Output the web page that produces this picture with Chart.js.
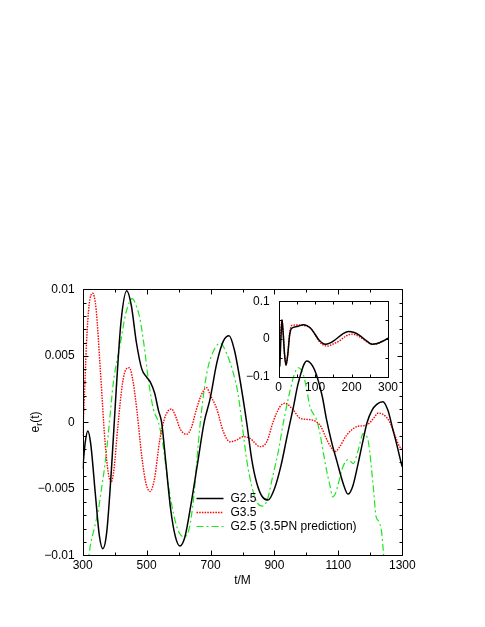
<!DOCTYPE html>
<html><head><meta charset="utf-8">
<script src="https://cdn.jsdelivr.net/npm/chart.js@4.4.1/dist/chart.umd.min.js"></script>
<style>
html,body{margin:0;padding:0;background:#fff;}
#wrap{position:relative;width:485px;height:627px;background:#fff;}
canvas{position:absolute;left:0;top:0;}
</style></head><body>
<div id="wrap"><canvas id="main" width="485" height="627"></canvas><canvas id="inset" width="485" height="627"></canvas></div>
<script>
// ---------- main panel data ----------
const xTicks = [300, 500, 700, 900, 1100, 1300];
const yTicks = [-0.01, -0.005, 0, 0.005, 0.01];
const yTickText = ['\u22120.01', '\u22120.005', '0', '0.005', '0.01'];

const g25T = [300,308,316,325,340,352,363,375,390,405,420,438,452,468,485,500,512,525,537,547,560,575,590,604,620,640,660,680,698,720,740,758,775,790,813,829,845,862,880,900,920,940,958,975,1001,1020,1035,1050,1063,1080,1095,1115,1130,1145,1160,1175,1190,1205,1220,1239,1255,1270,1282,1296,1300];
const g25E = [-0.0035,-0.0015,-0.00065,-0.0016,-0.0055,-0.0085,-0.0095,-0.0083,-0.0035,0.0025,0.0076,0.0099,0.0088,0.006,0.004,0.0034,0.003,0.0022,0.0009,0.0,-0.003,-0.0065,-0.0086,-0.0093,-0.0086,-0.006,-0.003,0.0,0.0017,0.0045,0.0061,0.0065,0.0054,0.0035,0.0,-0.0028,-0.0046,-0.0056,-0.00585,-0.005,-0.0033,-0.001,0.001,0.003,0.0046,0.0042,0.0033,0.0019,0.0002,-0.0016,-0.0029,-0.0046,-0.0054,-0.0048,-0.0033,-0.0016,0.0,0.0009,0.00135,0.00155,0.0009,-0.0005,-0.0016,-0.003,-0.00335];

const g35T = [300,305,312,320,331,342,355,370,380,389,398,410,425,436,446,458,470,485,498,511,525,540,555,567,578,590,605,625,640,655,670,688,699,719,740,761,782,802,823,855,876,896,917,933,959,980,1011,1030,1045,1060,1075,1090,1105,1125,1145,1160,1180,1195,1210,1225,1245,1261,1282,1292,1300];
const g35E = [-0.001,0.0018,0.006,0.0088,0.0097,0.0085,0.004,-0.0015,-0.0038,-0.0045,-0.0035,-0.0003,0.003,0.004,0.0041,0.003,0.0008,-0.0026,-0.0046,-0.0052,-0.0042,-0.0015,0.0002,0.00085,0.001,0.0005,-0.0005,-0.0009,-0.0004,0.0009,0.002,0.0026,0.00205,0.00105,-0.0007,-0.00146,-0.00133,-0.00108,-0.0012,-0.00183,-0.00146,0.00005,0.00117,0.00143,0.00092,0.0003,0.0002,0.00005,-0.0003,-0.0011,-0.0018,-0.0022,-0.0018,-0.001,-0.0005,-0.0003,-0.00025,-0.0001,0.0003,0.0007,0.0005,0.0,-0.0013,-0.00185,-0.002];

const pnT = [300,312,323,336,349,360,370,380,396,417,435,455,470,479,492,505,521,537,550,565,580,598,615,632,648,662,675,690,710,730,750,770,787,798,813,830,845,862,878,895,912,928,948,962,975,990,1000,1011,1032,1042,1053,1063,1074,1082,1090,1100,1115,1131,1147,1162,1178,1186,1194,1209,1218,1225,1235,1240,1245];
const pnE = [-0.013,-0.0116,-0.0094,-0.008,-0.0066,-0.0048,-0.0031,-0.0009,0.003,0.0058,0.0082,0.0093,0.0086,0.0078,0.0058,0.0033,0.001,0.0,-0.0015,-0.0042,-0.0064,-0.0081,-0.0086,-0.0081,-0.0055,-0.0015,0.0015,0.0039,0.0054,0.00595,0.0052,0.0038,0.002,0.0,-0.0028,-0.0049,-0.006,-0.0063,-0.0058,-0.004,-0.0022,0.0,0.0023,0.0036,0.0041,0.0036,0.0026,0.0012,0.00017,-0.0008,-0.0023,-0.0036,-0.0048,-0.0056,-0.0054,-0.0046,-0.0033,-0.0028,-0.0031,-0.0021,-0.00085,-0.00095,-0.0015,-0.0048,-0.0071,-0.0074,-0.0082,-0.0095,-0.011];

// ---------- inset data ----------
const inXTicks = [0, 100, 200, 300];
const inYTicks = [-0.1, 0, 0.1];
const inYTickText = ['\u22120.1', '0', '0.1'];
const inG25T = [3,6,9,12,16,20,25,30,35,50,68,87,100,110,128,140,155,175,192,205,220,240,256,270,285,300];
const inG25E = [-0.073,0.0,0.051,0.02,-0.04,-0.07,-0.04,0.01,0.028,0.033,0.038,0.029,0.012,-0.002,-0.014,-0.011,-0.002,0.013,0.02,0.018,0.011,-0.004,-0.014,-0.012,-0.006,0.002];
const inG35T = [4,9,12,16,20,25,30,36,50,68,87,100,110,133,150,165,185,201,215,228,245,265,280,300];
const inG35E = [0.0,0.05,0.02,-0.04,-0.068,-0.04,0.015,0.036,0.037,0.036,0.029,0.012,-0.005,-0.019,-0.013,-0.006,0.008,0.013,0.009,0.002,-0.009,-0.014,-0.008,0.002];

// ---------- styling ----------
const FONT = '"Liberation Sans", Arial, Helvetica, sans-serif';
Chart.defaults.font.family = FONT;
Chart.defaults.font.size = 12;
Chart.defaults.color = '#000';

const BLACK = '#000000', RED = '#ff0000', GREEN = '#1ee61e';
const RED_DASH = [1.5, 1.2], GREEN_DASH = [7, 3, 2, 3];

function pts(t, e) { return t.map((x, i) => ({ x: x, y: e[i] })); }

function framePlugin(cfg) {
  return {
    id: 'frame' + cfg.name,
    afterDatasetsDraw(chart) {
      const ctx = chart.ctx, a = chart.chartArea;
      const xs = chart.scales.x, ys = chart.scales.y;
      ctx.save();
      ctx.strokeStyle = '#000';
      ctx.lineWidth = 1;
      ctx.setLineDash([]);
      const L = Math.round(a.left) + 0.5, R = Math.round(a.right) + 0.5;
      const T = Math.round(a.top) + 0.5, B = Math.round(a.bottom) + 0.5;
      ctx.beginPath();
      ctx.rect(L, T, R - L, B - T);
      ctx.stroke();
      ctx.beginPath();
      for (let k = 0; k <= cfg.xN; k++) {
        const v = cfg.xMin + k * cfg.xStep;
        const px = Math.round(xs.getPixelForValue(v)) + 0.5;
        const len = (k % cfg.xMajorEvery === 0) ? cfg.major : cfg.minor;
        ctx.moveTo(px, B); ctx.lineTo(px, B - len);
        ctx.moveTo(px, T); ctx.lineTo(px, T + len);
      }
      for (let k = 0; k <= cfg.yN; k++) {
        const v = cfg.yMin + k * cfg.yStep;
        const py = Math.round(ys.getPixelForValue(v)) + 0.5;
        const len = (k % cfg.yMajorEvery === 0) ? cfg.major : cfg.minor;
        ctx.moveTo(L, py); ctx.lineTo(L + len, py);
        ctx.moveTo(R, py); ctx.lineTo(R - len, py);
      }
      ctx.stroke();
      ctx.restore();
    }
  };
}

const legendPlugin = {
  id: 'customLegend',
  afterDatasetsDraw(chart) {
    const ctx = chart.ctx;
    const items = chart.data.datasets;
    const x0 = 196.5, x1 = 223.5, tx = 230.5;
    const ys = [498.5, 512.5, 526.5];
    ctx.save();
    ctx.font = '12px ' + FONT;
    ctx.textBaseline = 'middle';
    ctx.textAlign = 'left';
    items.forEach((ds, i) => {
      ctx.strokeStyle = ds.borderColor;
      ctx.lineWidth = ds.borderWidth;
      ctx.setLineDash(ds.borderDash || []);
      ctx.beginPath();
      ctx.moveTo(x0, ys[i]); ctx.lineTo(x1, ys[i]);
      ctx.stroke();
      ctx.setLineDash([]);
      ctx.fillStyle = '#000';
      ctx.fillText(ds.label, tx, ys[i] + 0.5);
    });
    ctx.restore();
  }
};

const titlePlugin = {
  id: 'axisTitles',
  afterDraw(chart) {
    const ctx = chart.ctx;
    ctx.save();
    ctx.fillStyle = '#000';
    ctx.font = '12px ' + FONT;
    ctx.textAlign = 'center';
    ctx.textBaseline = 'middle';
    ctx.fillText('t/M', 242.5, 581);
    // rotated y title e_r(t)
    ctx.translate(35, 422);
    ctx.rotate(-Math.PI / 2);
    ctx.textAlign = 'left';
    ctx.textBaseline = 'alphabetic';
    const f12 = '12px ' + FONT, f9 = '9px ' + FONT;
    ctx.font = f12; const wE = ctx.measureText('e').width;
    ctx.font = f9; const wR = ctx.measureText('r').width;
    ctx.font = f12; const wP = ctx.measureText('(t)').width;
    let x = -(wE + wR + wP) / 2;
    const base = 4;
    ctx.font = f12; ctx.fillText('e', x, base); x += wE;
    ctx.font = f9; ctx.fillText('r', x, base + 3); x += wR;
    ctx.font = f12; ctx.fillText('(t)', x, base);
    ctx.restore();
  }
};

const lineBase = { pointRadius: 0, fill: false, cubicInterpolationMode: 'monotone' };

// ---------- main chart ----------
new Chart(document.getElementById('main'), {
  type: 'line',
  data: {
    datasets: [
      Object.assign({ label: 'G2.5', data: pts(g25T, g25E), borderColor: BLACK, borderWidth: 1.5 }, lineBase),
      Object.assign({ label: 'G3.5', data: pts(g35T, g35E), borderColor: RED, borderWidth: 1.4, borderDash: RED_DASH }, lineBase),
      Object.assign({ label: 'G2.5 (3.5PN prediction)', data: pts(pnT, pnE), borderColor: GREEN, borderWidth: 1.2, borderDash: GREEN_DASH }, lineBase)
    ]
  },
  options: {
    responsive: false, animation: false, devicePixelRatio: 1,
    layout: { padding: { top: 289.3, right: 82.7, left: 0, bottom: 0 } },
    plugins: { legend: { display: false }, tooltip: { enabled: false } },
    scales: {
      x: {
        type: 'linear', min: 300, max: 1300,
        afterBuildTicks: s => { s.ticks = xTicks.map(v => ({ value: v })); },
        ticks: { padding: 3, maxRotation: 0, autoSkip: false, callback: v => String(v), font: { size: 12 } },
        grid: { display: false, drawTicks: false }, border: { display: false },
        afterFit: s => { s.height = 71.7; }
      },
      y: {
        type: 'linear', min: -0.01, max: 0.01,
        afterBuildTicks: s => { s.ticks = yTicks.map(v => ({ value: v })); },
        ticks: { padding: 8, autoSkip: false, callback: (v, i) => yTickText[i], font: { size: 12 } },
        grid: { display: false, drawTicks: false }, border: { display: false },
        afterFit: s => { s.width = 82.7; }
      }
    }
  },
  plugins: [
    framePlugin({ name: 'M', xMin: 300, xStep: 100, xN: 10, xMajorEvery: 2, yMin: -0.01, yStep: 0.001, yN: 20, yMajorEvery: 5, major: 5, minor: 3 }),
    legendPlugin, titlePlugin
  ]
});

// ---------- inset chart ----------
new Chart(document.getElementById('inset'), {
  type: 'line',
  data: {
    datasets: [
      Object.assign({ label: 'G2.5', data: pts(inG25T, inG25E), borderColor: BLACK, borderWidth: 1.5 }, lineBase),
      Object.assign({ label: 'G3.5', data: pts(inG35T, inG35E), borderColor: RED, borderWidth: 1.4, borderDash: RED_DASH }, lineBase)
    ]
  },
  options: {
    responsive: false, animation: false, devicePixelRatio: 1,
    layout: { padding: { top: 301.3, right: 97, left: 0, bottom: 0 } },
    plugins: { legend: { display: false }, tooltip: { enabled: false } },
    scales: {
      x: {
        type: 'linear', min: 0, max: 300,
        afterBuildTicks: s => { s.ticks = inXTicks.map(v => ({ value: v })); },
        ticks: { padding: 4, maxRotation: 0, autoSkip: false, callback: v => String(v), font: { size: 12 } },
        grid: { display: false, drawTicks: false }, border: { display: false },
        afterFit: s => { s.height = 250.3; }
      },
      y: {
        type: 'linear', min: -0.1, max: 0.1,
        afterBuildTicks: s => { s.ticks = inYTicks.map(v => ({ value: v })); },
        ticks: { padding: 9, autoSkip: false, callback: (v, i) => inYTickText[i], font: { size: 12 } },
        grid: { display: false, drawTicks: false }, border: { display: false },
        afterFit: s => { s.width = 278.7; }
      }
    }
  },
  plugins: [
    framePlugin({ name: 'I', xMin: 0, xStep: 50, xN: 6, xMajorEvery: 2, yMin: -0.1, yStep: 0.05, yN: 4, yMajorEvery: 2, major: 3, minor: 3 })
  ]
});
</script>
</body></html>
